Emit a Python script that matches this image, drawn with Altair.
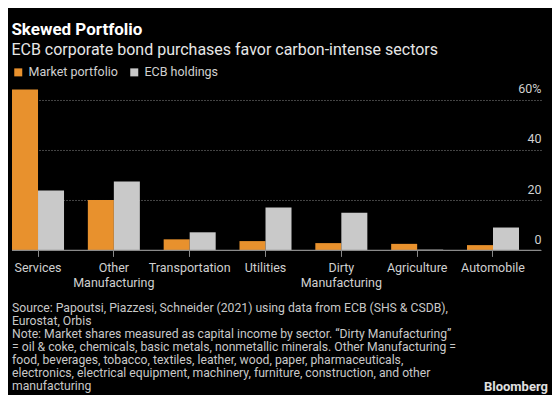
import altair as alt
import pandas as pd

categories = ["Services", "Other Manufacturing", "Transportation", "Utilities",
              "Dirty Manufacturing", "Agriculture", "Automobile"]
market_portfolio = [64.0, 20.0, 4.4, 3.7, 2.9, 2.6, 2.1]
ecb_holdings = [23.8, 27.4, 7.2, 17.1, 15.0, 0.3, 9.1]
series_names = ["Market portfolio", "ECB holdings"]
series_colors = ["#E8912D", "#C9C9C9"]
y_ticks = [0, 20, 40, 60]

title_text = "Skewed Portfolio"
subtitle_text = "ECB corporate bond purchases favor carbon-intense sectors"
footer_lines = [
    "Source: Papoutsi, Piazzesi, Schneider (2021) using data from ECB (SHS & CSDB),",
    "Eurostat, Orbis",
    "Note: Market shares measured as capital income by sector. \u201cDirty Manufacturing\u201d",
    "= oil & coke, chemicals, basic metals, nonmetallic minerals. Other Manufacturing =",
    "food, beverages, tobacco, textiles, leather, wood, paper, pharmaceuticals,",
    "electronics, electrical equipment, machinery, furniture, construction, and other",
    "manufacturing",
]
brand = "Bloomberg"

FONT = "Roboto"
W, H = 529, 163.4

rows = []
for c, m, e in zip(categories, market_portfolio, ecb_holdings):
    rows.append({"category": c, "series": series_names[0], "value": m})
    rows.append({"category": c, "series": series_names[1], "value": e})
df = pd.DataFrame(rows)

bars = alt.Chart(df).mark_bar().encode(
    x=alt.X("category:N", sort=categories,
            scale=alt.Scale(paddingInner=0.314, paddingOuter=0.145, align=0),
            axis=alt.Axis(title=None, domain=False, ticks=True, tickSize=6,
                          tickColor="#8a8a8a", labelPadding=5, labelAngle=0,
                          labelFont=FONT, labelFontSize=12.5, labelColor="#D0D0D0",
                          labelLineHeight=15, labelBaseline="top",
                          labelExpr="indexof(datum.label, 'Manufacturing') > 0 ? split(datum.label, ' ') : datum.label")),
    xOffset=alt.XOffset("series:N", sort=series_names,
                        scale=alt.Scale(paddingInner=0, paddingOuter=0)),
    y=alt.Y("value:Q", scale=alt.Scale(domain=[0, 65], nice=False),
            axis=alt.Axis(title=None, orient="right", values=y_ticks, domain=False,
                          ticks=False, grid=True, gridColor="#8a8a8a",
                          gridDash=[1, 2], gridWidth=1, labelAlign="right",
                          labelPadding=0, labelBaseline="bottom", labelOffset=-4,
                          labelFont=FONT, labelFontSize=12.5, labelColor="#D0D0D0",
                          labelExpr="datum.value == 60 ? '60%' : datum.label")),
    color=alt.Color("series:N", sort=series_names,
                    scale=alt.Scale(domain=series_names, range=series_colors),
                    legend=alt.Legend(title=None, orient="none", direction="horizontal",
                                      legendX=0, legendY=-21, symbolType="square",
                                      symbolSize=64, symbolStrokeWidth=0,
                                      labelFont=FONT, labelFontSize=12.5,
                                      labelColor="#D0D0D0", columnPadding=10,
                                      labelOffset=4)),
)

baseline = alt.Chart(pd.DataFrame({"v": [0]})).mark_rule(
    color="#8a8a8a", strokeWidth=1.2).encode(
    y="v:Q", x=alt.value(0), x2=alt.value(W))

footer = alt.Chart(pd.DataFrame({"a": [0]})).mark_text(
    text=footer_lines, align="left", baseline="top", font=FONT, fontSize=12.2,
    lineHeight=12.9, color="#C8C8C8").encode(x=alt.value(0), y=alt.value(215.5))

logo = alt.Chart(pd.DataFrame({"a": [0]})).mark_text(
    text=brand, align="right", baseline="middle", font=FONT, fontSize=13,
    fontWeight="bold", color="#E0E0E0").encode(x=alt.value(536), y=alt.value(300))

chart = alt.layer(bars, baseline, footer, logo).properties(
    width=W, height=H,
    title=alt.TitleParams(title_text, subtitle=subtitle_text, anchor="start",
                          font=FONT, fontSize=17, fontWeight="bold", color="#FFFFFF",
                          subtitleFont=FONT, subtitleFontSize=16,
                          subtitleColor="#E6E6E6", subtitlePadding=3, offset=7),
    autosize=alt.AutoSizeParams(type="none"),
    padding={"left": 4, "top": 79, "right": 11, "bottom": 145},
    background="#000000",
).configure_view(stroke=None)

chart.save("out.html", embed_options={"renderer": "svg", "actions": False})
